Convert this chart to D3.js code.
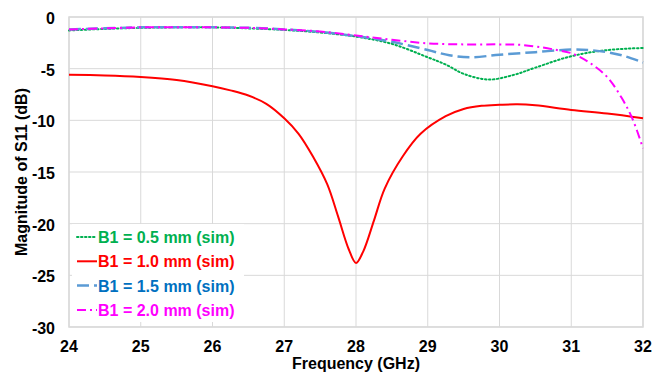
<!DOCTYPE html>
<html>
<head>
<meta charset="utf-8">
<script src="https://cdn.jsdelivr.net/npm/d3@7"></script>
<style>
  body { margin: 0; background: #fff; }
  svg { display: block; font-family: Arial, "Liberation Sans", sans-serif; }
</style>
</head>
<body>
<svg id="chart" width="668" height="374"></svg>
<script>
// S11 magnitude (dB), per B1 width
const freq05 = [24, 24.5, 25, 25.5, 26, 26.5, 27, 27.5, 28, 28.5, 29, 29.25, 29.5, 29.85, 30.2, 30.5, 31, 31.5, 32];
const s11_05 = [-1.3, -1.15, -1.05, -1.0, -1.0, -1.1, -1.25, -1.5, -1.9, -2.6, -3.9, -4.6, -5.5, -6.05, -5.6, -4.9, -3.8, -3.2, -3.0];

const freq10 = [24, 24.5, 25, 25.5, 26, 26.25, 26.5, 26.75, 27, 27.2, 27.4, 27.6, 27.75, 27.9, 28.0, 28.1, 28.25, 28.4, 28.65, 28.9, 29.25, 29.5, 29.75, 30, 30.25, 30.5, 31, 31.5, 32];
const s11_10 = [-5.6, -5.65, -5.8, -6.1, -6.7, -7.1, -7.6, -8.4, -9.8, -11.3, -13.5, -16.2, -19.3, -22.5, -23.8, -22.7, -19.7, -16.6, -13.5, -11.3, -9.6, -8.9, -8.6, -8.5, -8.45, -8.55, -9.0, -9.35, -9.8];

const freq15 = [24, 24.5, 25, 25.5, 26, 26.5, 27, 27.5, 28, 28.5, 29, 29.3, 29.6, 30, 30.5, 31, 31.25, 31.5, 31.75, 32];
const s11_15 = [-1.2, -1.1, -1.0, -1.0, -1.0, -1.05, -1.2, -1.45, -1.85, -2.4, -3.2, -3.7, -3.9, -3.65, -3.4, -3.15, -3.2, -3.4, -3.8, -4.4];

const freq20 = [24, 24.5, 25, 25.5, 26, 26.5, 27, 27.5, 28, 28.5, 29, 29.5, 30, 30.3, 30.6, 30.8, 31, 31.25, 31.5, 31.7, 31.85, 32];
const s11_20 = [-1.2, -1.1, -1.0, -1.0, -1.0, -1.05, -1.2, -1.4, -1.8, -2.2, -2.55, -2.65, -2.65, -2.7, -2.95, -3.2, -3.5, -4.4, -5.8, -7.8, -9.8, -12.7];

const xTicks = [24, 25, 26, 27, 28, 29, 30, 31, 32];
const yTicks = [0, -5, -10, -15, -20, -25, -30];

const seriesNames = ["B1 = 0.5 mm (sim)", "B1 = 1.0 mm (sim)", "B1 = 1.5 mm (sim)", "B1 = 2.0 mm (sim)"];

const series = [
  { name: seriesNames[0], f: freq05, v: s11_05, color: "#00b050", text: "#00b050", width: 2, dash: "1.5,2.5", cap: "round" },
  { name: seriesNames[1], f: freq10, v: s11_10, color: "#ff0000", text: "#ff0000", width: 2, dash: null, cap: "butt" },
  { name: seriesNames[2], f: freq15, v: s11_15, color: "#5b9bd5", text: "#0070c0", width: 2.5, dash: "12,5", cap: "butt" },
  { name: seriesNames[3], f: freq20, v: s11_20, color: "#ff00ff", text: "#ff00ff", width: 2, dash: "9,4,2,4", cap: "butt" }
];

const svg = d3.select("#chart");
const margin = { left: 69, top: 17, right: 643, bottom: 327 };

const x = d3.scaleLinear().domain([24, 32]).range([margin.left, margin.right]);
const y = d3.scaleLinear().domain([-30, 0]).range([margin.bottom, margin.top]);

// grid
const grid = svg.append("g").attr("stroke", "#d9d9d9").attr("stroke-width", 1);
grid.selectAll(".gx").data(xTicks).enter().append("line")
  .attr("x1", d => x(d)).attr("x2", d => x(d))
  .attr("y1", margin.top).attr("y2", margin.bottom);
grid.selectAll(".gy").data(yTicks).enter().append("line")
  .attr("x1", margin.left).attr("x2", margin.right)
  .attr("y1", d => y(d)).attr("y2", d => y(d));
svg.append("rect")
  .attr("x", margin.left).attr("y", margin.top)
  .attr("width", margin.right - margin.left).attr("height", margin.bottom - margin.top)
  .attr("fill", "none").attr("stroke", "#d9d9d9").attr("stroke-width", 1.5);

// tick labels
svg.append("g").selectAll("text").data(xTicks).enter().append("text")
  .attr("x", d => x(d)).attr("y", 352)
  .attr("text-anchor", "middle")
  .style("font-size", "16px").style("font-weight", "bold")
  .text(d => d);
svg.append("g").selectAll("text").data(yTicks).enter().append("text")
  .attr("x", 55).attr("y", d => y(d) + 7)
  .attr("text-anchor", "end")
  .style("font-size", "16px").style("font-weight", "bold")
  .text(d => d);

// axis titles
svg.append("text")
  .attr("x", (margin.left + margin.right) / 2).attr("y", 369)
  .attr("text-anchor", "middle")
  .style("font-size", "16px").style("font-weight", "bold")
  .text("Frequency (GHz)");
svg.append("text")
  .attr("transform", `translate(27,${(margin.top + margin.bottom) / 2}) rotate(-90)`)
  .attr("text-anchor", "middle")
  .style("font-size", "16px").style("font-weight", "bold")
  .text("Magnitude of S11 (dB)");

// curves
const line = d3.line()
  .x(d => x(d[0]))
  .y(d => y(d[1]))
  .curve(d3.curveCatmullRom.alpha(0.5));

svg.append("g").selectAll("path").data(series).enter().append("path")
  .attr("d", s => line(s.f.map((f, i) => [f, s.v[i]])))
  .attr("fill", "none")
  .attr("stroke", s => s.color)
  .attr("stroke-width", s => s.width)
  .attr("stroke-dasharray", s => s.dash)
  .attr("stroke-linecap", s => s.cap);

// legend
const legend = svg.append("g");
legend.append("rect")
  .attr("x", 72).attr("y", 224).attr("width", 172).attr("height", 98)
  .attr("fill", "#fff");
const rows = legend.selectAll(".row").data(series).enter().append("g")
  .attr("transform", (d, i) => `translate(0,${243 + i * 24.3})`);
rows.append("line")
  .attr("x1", 77).attr("x2", 97).attr("y1", -6).attr("y2", -6)
  .attr("stroke", s => s.color)
  .attr("stroke-width", s => s.width)
  .attr("stroke-dasharray", s => s.dash)
  .attr("stroke-linecap", s => s.cap);
rows.append("text")
  .attr("x", 98).attr("y", 0)
  .style("font-size", "16px").style("font-weight", "bold")
  .attr("fill", s => s.text)
  .text(s => s.name);
</script>
</body>
</html>
